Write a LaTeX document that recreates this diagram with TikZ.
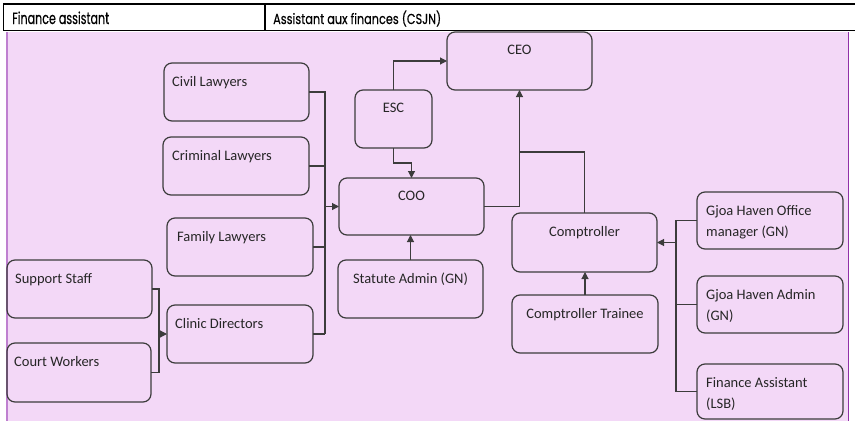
\documentclass[tikz,border=0pt]{standalone}
\usepackage{fontspec}
\usepackage{graphicx}
\setmainfont{Carlito}
\newfontfamily\hdrfont[FakeBold=0.4]{Poppins}
\usetikzlibrary{arrows.meta}
\definecolor{pinkbg}{HTML}{F3D8F7}
\definecolor{lpurple}{HTML}{BF80D0}
\definecolor{dpurple}{HTML}{9030A8}
\definecolor{edgec}{HTML}{3C3C3C}
\begin{document}
\begin{tikzpicture}[x=1pt,y=-1pt,
  box/.style={draw=edgec, line width=1.2pt, rounded corners=8pt, inner sep=0pt, outer sep=0pt, rectangle},
  conn/.style={draw=edgec, line width=1.1pt},
  arr/.style={conn, -{Triangle[length=7pt,width=7pt]}},
  txt/.style={inner sep=0pt, font=\fontsize{14.5}{21.5}\selectfont, align=left, text=black!85},
  hdr/.style={inner sep=0pt, font=\hdrfont\fontsize{16}{18}\selectfont, anchor=base west, text=black}]
\useasboundingbox (0,0) rectangle (855,421);
\fill[white] (0,0) rectangle (855,421);
% header
\draw[line width=1.2pt] (855,4) -- (3.5,4) -- (3.5,30.5) -- (855,30.5);
\draw[line width=1.2pt] (265,4) -- (265,30.5);
\node[hdr] (h1) at (12,24) {\resizebox{97pt}{12.5pt}{Finance assistant}};
\node[hdr] (h2) at (273,24) {\resizebox{168pt}{13.5pt}{Assistant aux finances (CSJN)}};
% pink area
\fill[pinkbg] (6,31.8) rectangle (848.5,421);
\draw[lpurple, line width=2pt] (6.5,32) -- (6.5,421);
\draw[dpurple, line width=1.5pt] (848.5,32) -- (848.5,421);
% boxes
\node[box, minimum width=145pt, minimum height=58pt] (ceo) at (519.5,61) {};
\node[box, minimum width=77pt, minimum height=58pt] (esc) at (393.5,119) {};
\node[box, minimum width=145pt, minimum height=57pt] (coo) at (411.5,206.5) {};
\node[box, minimum width=145pt, minimum height=58pt] (civil) at (236.5,92) {};
\node[box, minimum width=146pt, minimum height=58pt] (criminal) at (236,166) {};
\node[box, minimum width=146pt, minimum height=58pt] (family) at (240,247) {};
\node[box, minimum width=146pt, minimum height=58pt] (clinic) at (240,334) {};
\node[box, minimum width=145pt, minimum height=58pt] (support) at (79.5,289) {};
\node[box, minimum width=144pt, minimum height=59pt] (court) at (79,372.5) {};
\node[box, minimum width=145pt, minimum height=58pt] (statute) at (410.5,289) {};
\node[box, minimum width=145pt, minimum height=59pt] (comp) at (584.5,242.5) {};
\node[box, minimum width=146pt, minimum height=58pt] (trainee) at (585,324) {};
\node[box, minimum width=146pt, minimum height=57pt] (gjoaoff) at (770,220.5) {};
\node[box, minimum width=146pt, minimum height=57pt] (gjoaadm) at (770,304.5) {};
\node[box, minimum width=146pt, minimum height=55pt] (finasst) at (770,391.5) {};
% texts
\node[txt, anchor=base] (tceo) at ([shift={(0,22.5)}]ceo.north) {CEO};
\node[txt, anchor=base] (tesc) at ([shift={(0,22.5)}]esc.north) {ESC};
\node[txt, anchor=base] (tcoo) at ([shift={(0,22.5)}]coo.north) {COO};
\node[txt, anchor=base west] (tcivil) at ([shift={(8,23)}]civil.north west) {Civil Lawyers};
\node[txt, anchor=base west] (tcrim) at ([shift={(9,23)}]criminal.north west) {Criminal Lawyers};
\node[txt, anchor=base west] (tfam) at ([shift={(10,23)}]family.north west) {Family Lawyers};
\node[txt, anchor=base west] (tclin) at ([shift={(8,23)}]clinic.north west) {Clinic Directors};
\node[txt, anchor=base west] (tsup) at ([shift={(8,23)}]support.north west) {Support Staff};
\node[txt, anchor=base west] (tcourt) at ([shift={(7,23)}]court.north west) {Court Workers};
\node[txt, anchor=base] (tstat) at ([shift={(0,23)}]statute.north) {Statute Admin (GN)};
\node[txt, anchor=base] (tcomp) at ([shift={(0,23.5)}]comp.north) {Comptroller};
\node[txt, anchor=base] (ttrain) at ([shift={(0,23)}]trainee.north) {Comptroller Trainee};
\node[txt, anchor=base west] (tgo1) at ([shift={(9,23)}]gjoaoff.north west) {Gjoa Haven Office};
\node[txt, anchor=base west] (tgo2) at ([shift={(9,44.5)}]gjoaoff.north west) {manager (GN)};
\node[txt, anchor=base west] (tga1) at ([shift={(9,23)}]gjoaadm.north west) {Gjoa Haven Admin};
\node[txt, anchor=base west] (tga2) at ([shift={(9,44.5)}]gjoaadm.north west) {(GN)};
\node[txt, anchor=base west] (tfa1) at ([shift={(9,23)}]finasst.north west) {Finance Assistant};
\node[txt, anchor=base west] (tfa2) at ([shift={(9,44.5)}]finasst.north west) {(LSB)};
% connector points
\coordinate (busL) at (325,334);
\coordinate (busS) at (159,372.5);
\coordinate (busR) at (676,391.5);
\coordinate (jct) at (519.5,152);
% connectors
\draw[conn] (civil.east) -| (busL);
\draw[conn] (criminal.east) -- (criminal.east -| busL);
\draw[conn] (family.east) -- (family.east -| busL);
\draw[conn] (clinic.east) -- (clinic.east -| busL);
\draw[arr] (busL |- coo.west) -- (coo.west);
\draw[conn] (support.east) -| (busS);
\draw[conn] (court.east) -- (court.east -| busS);
\draw[arr] (busS |- clinic.west) -- (clinic.west);
\draw[arr] (esc.north) |- (ceo.west);
\draw[arr] (esc.south) -- ++(0,15) -| (coo.north);
\draw[arr] (coo.east) -| (ceo.south);
\draw[conn] (comp.north) |- (jct);
\draw[arr] (statute.north) -- (statute.north |- coo.south);
\draw[arr] (trainee.north) -- (trainee.north |- comp.south);
\draw[conn] (gjoaoff.west) -| (busR);
\draw[conn] (gjoaadm.west) -- (gjoaadm.west -| busR);
\draw[conn] (finasst.west) -- (finasst.west -| busR);
\draw[arr] (busR |- comp.east) -- (comp.east);
\end{tikzpicture}
\end{document}
